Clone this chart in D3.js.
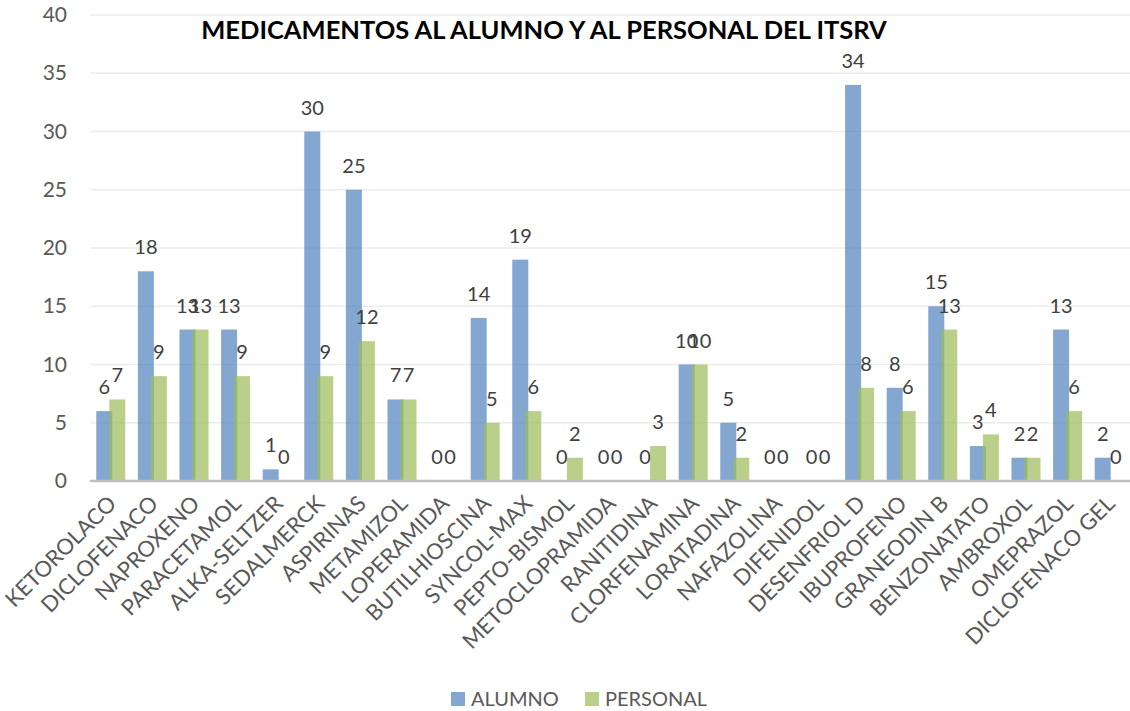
<!DOCTYPE html>
<html>
<head>
<meta charset="utf-8">
<script src="https://cdn.jsdelivr.net/npm/d3@7"></script>
<style>
  body { margin: 0; background: #fff; }
  text { font-family: Lato, "Open Sans", sans-serif; }
</style>
</head>
<body>
<div id="chart"></div>
<script>
var categories = ["KETOROLACO", "DICLOFENACO", "NAPROXENO", "PARACETAMOL", "ALKA-SELTZER",
    "SEDALMERCK", "ASPIRINAS", "METAMIZOL", "LOPERAMIDA", "BUTILHIOSCINA", "SYNCOL-MAX",
    "PEPTO-BISMOL", "METOCLOPRAMIDA", "RANITIDINA", "CLORFENAMINA", "LORATADINA", "NAFAZOLINA",
    "DIFENIDOL", "DESENFRIOL D", "IBUPROFENO", "GRANEODIN B", "BENZONATATO", "AMBROXOL",
    "OMEPRAZOL", "DICLOFENACO GEL"];
var alumno   = [6, 18, 13, 13, 1, 30, 25, 7, 0, 14, 19, 0, 0, 0, 10, 5, 0, 0, 34, 8, 15, 3, 2, 13, 2];
var personal = [7, 9, 13, 9, 0, 9, 12, 7, 0, 5, 6, 2, 0, 3, 10, 2, 0, 0, 8, 6, 13, 4, 2, 6, 0];
var seriesNames = ["ALUMNO", "PERSONAL"];
var yTicks = [0, 5, 10, 15, 20, 25, 30, 35, 40];

var width = 1130, height = 711;
var margins = {top: 15, right: 0, bottom: 230, left: 90};
var colors = ["#4F81BD", "#9BBB59"];

var svg = d3.select("#chart").append("svg")
    .attr("width", width)
    .attr("height", height);

var x = d3.scaleBand()
    .domain(categories)
    .range([margins.left, width - margins.right])
    .paddingInner(0)
    .paddingOuter(0);

var y = d3.scaleLinear()
    .domain([0, 40])
    .range([height - margins.bottom, margins.top]);

// gridlines
svg.append("g")
    .selectAll("line")
    .data(yTicks.slice(1))
    .enter().append("line")
    .attr("x1", margins.left)
    .attr("x2", width - margins.right)
    .attr("y1", function(d) { return y(d); })
    .attr("y2", function(d) { return y(d); })
    .attr("stroke", "#ececec")
    .attr("stroke-width", 1.5);

// y axis labels
svg.append("g")
    .selectAll("text")
    .data(yTicks)
    .enter().append("text")
    .attr("x", 67)
    .attr("y", function(d) { return y(d) + 7; })
    .attr("text-anchor", "end")
    .style("font-size", "21px")
    .style("fill", "#595959")
    .text(function(d) { return d; });

var barW = 16, overlap = 3;
var groupW = barW * 2 - overlap;
var series = [alumno, personal];

series.forEach(function(vals, s) {
    var g = svg.append("g");
    var bx = function(d, i) {
        return x(categories[i]) + (x.bandwidth() - groupW) / 2 + s * (barW - overlap);
    };
    g.selectAll("rect")
        .data(vals)
        .enter().append("rect")
        .attr("x", bx)
        .attr("y", function(d) { return y(d); })
        .attr("width", barW)
        .attr("height", function(d) { return y(0) - y(d); })
        .attr("fill", colors[s])
        .attr("fill-opacity", 0.7);

    g.selectAll("text")
        .data(vals)
        .enter().append("text")
        .attr("x", function(d, i) { return bx(d, i) + barW / 2; })
        .attr("y", function(d) { return y(d) - 17; })
        .attr("text-anchor", "middle")
        .style("font-size", "20px")
        .style("fill", "#404040")
        .text(function(d) { return d; });
});

// axis line
svg.append("line")
    .attr("x1", margins.left)
    .attr("x2", width - margins.right)
    .attr("y1", y(0))
    .attr("y2", y(0))
    .attr("stroke", "#bfbfbf")
    .attr("stroke-width", 2.5);

// x labels
svg.append("g")
    .selectAll("text")
    .data(categories)
    .enter().append("text")
    .attr("transform", function(d) {
        return "translate(" + (x(d) + x.bandwidth() / 2 + 7) + "," + (y(0) + 24) + ") rotate(-45)";
    })
    .attr("text-anchor", "end")
    .style("font-size", "22px")
    .style("fill", "#595959")
    .text(function(d) { return d; });

// title
svg.append("text")
    .attr("x", 544)
    .attr("y", 39)
    .attr("text-anchor", "middle")
    .style("font-size", "25.5px")
    .style("font-weight", "bold")
    .style("fill", "#000")
    .text("MEDICAMENTOS AL ALUMNO Y AL PERSONAL DEL ITSRV");

// legend
var legend = svg.append("g");
var legendX = [451, 585];
seriesNames.forEach(function(name, s) {
    legend.append("rect")
        .attr("x", legendX[s])
        .attr("y", 692)
        .attr("width", 14)
        .attr("height", 14)
        .attr("fill", colors[s])
        .attr("fill-opacity", 0.7);
    legend.append("text")
        .attr("x", legendX[s] + 20)
        .attr("y", 706)
        .style("font-size", "20px")
        .style("fill", "#595959")
        .text(name);
});
</script>
</body>
</html>
